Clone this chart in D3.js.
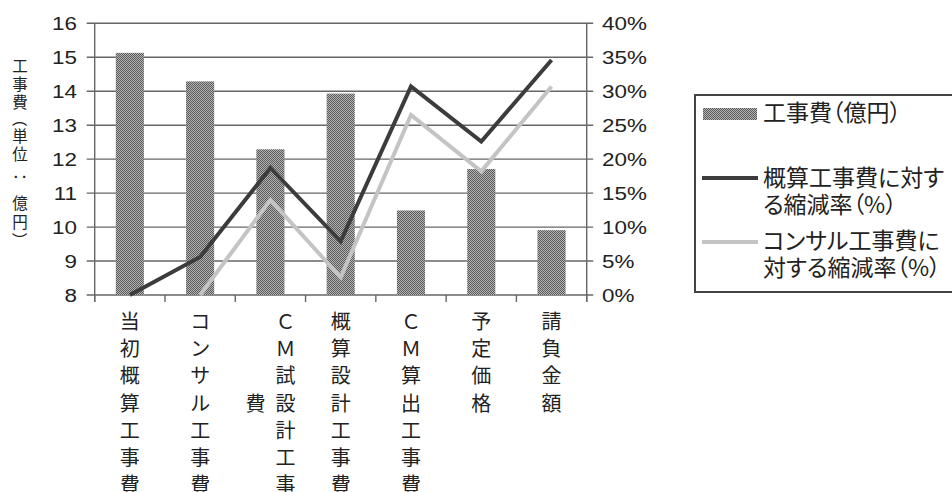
<!DOCTYPE html>
<html><head><meta charset="utf-8">
<script src="https://cdn.jsdelivr.net/npm/d3@7"></script>
<style>
html,body{margin:0;padding:0;background:#fff;}
svg{display:block;}
text{fill:#222;}
</style></head>
<body>
<svg id="chart" width="952" height="492"></svg>
<script>
// ---- data ----
const categories = ["当初概算工事費","コンサル工事費","ＣＭ試設計工事費","概算設計工事費","ＣＭ算出工事費","予定価格","請負金額"];
const costValues = [15.13, 14.29, 12.29, 13.93, 10.49, 11.71, 9.91];           // 工事費（億円）
const reductionVsEstimate = [0, 5.6, 18.7, 7.9, 30.7, 22.6, 34.6];              // 概算工事費に対する縮減率（%）
const reductionVsConsultant = [null, 0, 14.0, 2.6, 26.5, 18.2, 30.7];           // コンサル工事費に対する縮減率（%）
const leftTicks = [8, 9, 10, 11, 12, 13, 14, 15, 16];
const rightTicks = [0, 5, 10, 15, 20, 25, 30, 35, 40];
const yTitle = "工事費（単位：億円）";
const legendLabels = [["工事費（億円）"], ["概算工事費に対す", "る縮減率（%）"], ["コンサル工事費に", "対する縮減率（%）"]];

const svg = d3.select("#chart");
const L = 94.7, R = 586.7, T = 23.3, B = 295;
const CJK = "'Noto Sans CJK JP', sans-serif";
const LAT = "'Liberation Sans', Arial, sans-serif";

const defs = svg.append("defs");
const pat = defs.append("pattern").attr("id","dither").attr("width",2).attr("height",2).attr("patternUnits","userSpaceOnUse");
pat.append("rect").attr("width",2).attr("height",2).attr("fill","#b4b4b4");
pat.append("rect").attr("x",0).attr("y",0).attr("width",1).attr("height",1).attr("fill","#5a5a5a");
pat.append("rect").attr("x",1).attr("y",1).attr("width",1).attr("height",1).attr("fill","#5a5a5a");

const x = d3.scaleBand().domain(categories).range([L, R]).paddingInner(0.6).paddingOuter(0.3);
const step = x.step();
const yL = d3.scaleLinear().domain([8, 16]).range([B, T]);
const yR = d3.scaleLinear().domain([0, 40]).range([B, T]);

// gridlines (extend over both tick sides)
svg.append("g").selectAll("line").data(leftTicks).join("line")
  .attr("x1", L - 8).attr("x2", R + 6.5)
  .attr("y1", d => yL(d)).attr("y2", d => yL(d))
  .attr("stroke", "#666").attr("stroke-width", 1.4);

// vertical axes
[L, R].forEach(px => svg.append("line").attr("x1", px).attr("x2", px).attr("y1", T).attr("y2", B + 7)
  .attr("stroke", "#666").attr("stroke-width", 1.4));
// category boundary ticks
const bounds = d3.range(categories.length + 1).map(i => L + i * step);
svg.append("g").selectAll("line").data(bounds).join("line")
  .attr("x1", d => d).attr("x2", d => d).attr("y1", B).attr("y2", B + 7)
  .attr("stroke", "#666").attr("stroke-width", 1.4);

// left tick labels (slightly widened glyphs like the reference)
svg.append("g").selectAll("text").data(leftTicks).join("text")
  .attr("transform", d => `translate(77,${yL(d)}) scale(1.18,1)`).attr("dy", "0.36em")
  .attr("text-anchor", "end").attr("font-family", LAT).attr("font-size", 19)
  .text(d => d);
// right tick labels
svg.append("g").selectAll("text").data(rightTicks).join("text")
  .attr("transform", d => `translate(602,${yR(d)}) scale(1.18,1)`).attr("dy", "0.36em")
  .attr("text-anchor", "start").attr("font-family", LAT).attr("font-size", 19)
  .text(d => d + "%");

// bars
svg.append("g").selectAll("rect").data(categories).join("rect")
  .attr("x", d => x(d)).attr("width", x.bandwidth())
  .attr("y", (d, i) => yL(costValues[i])).attr("height", (d, i) => B - yL(costValues[i]))
  .attr("fill", "url(#dither)");

// lines
const cx = c => x(c) + x.bandwidth() / 2;
const mkLine = vals => d3.line().defined((d, i) => vals[i] !== null)
  .x(d => cx(d)).y((d, i) => yR(vals[i]))(categories);
svg.append("path").attr("d", mkLine(reductionVsConsultant)).attr("fill", "none")
  .attr("stroke", "#c4c4c4").attr("stroke-width", 4).attr("stroke-linejoin", "miter");
svg.append("path").attr("d", mkLine(reductionVsEstimate)).attr("fill", "none")
  .attr("stroke", "#3c3c3c").attr("stroke-width", 4).attr("stroke-linejoin", "miter");

// category labels: vertical stacked text, max 7 rows; extra columns to the left
const maxRows = 7, rowPitch = 27.1, colPitch = 30, topRow = 322;
const catG = svg.append("g").attr("font-family", CJK).attr("font-size", 20);
categories.forEach(c => {
  const chars = Array.from(c);
  const cols = [];
  for (let i = 0; i < chars.length; i += maxRows) cols.push(chars.slice(i, i + maxRows));
  const center = cx(c);
  cols.forEach((col, ci) => {
    const colX = center + ((cols.length - 1) / 2 - ci) * colPitch;
    const offset = ci === 0 ? 0 : Math.floor((maxRows - col.length) / 2);
    col.forEach((ch, ri) => {
      catG.append("text").attr("x", colX).attr("y", topRow + (ri + offset) * rowPitch)
        .attr("dy", "0.36em").attr("text-anchor", "middle").text(ch);
    });
  });
});

// y axis title (vertical)
const titleY = [66, 84, 102, 119, 136, 154, 177, 203, 222, 240];
const tG = svg.append("g").attr("font-family", CJK).attr("font-size", 15.5);
Array.from(yTitle).forEach((ch, i) => {
  const rot = "（）：".includes(ch);
  tG.append("text").attr("text-anchor", "middle").attr("dy", "0.36em")
    .attr("transform", `translate(20,${titleY[i]})` + (rot ? " rotate(90)" : ""))
    .text(ch);
});

// legend
const lg = svg.append("g");
lg.append("rect").attr("x", 695).attr("y", 95).attr("width", 270).attr("height", 197)
  .attr("fill", "#fff").attr("stroke", "#444").attr("stroke-width", 2);
lg.append("rect").attr("x", 703).attr("y", 108).attr("width", 54).attr("height", 12).attr("fill", "url(#dither)");
lg.append("line").attr("x1", 702).attr("x2", 758).attr("y1", 178).attr("y2", 178).attr("stroke", "#3c3c3c").attr("stroke-width", 4);
lg.append("line").attr("x1", 702).attr("x2", 758).attr("y1", 242).attr("y2", 242).attr("stroke", "#c4c4c4").attr("stroke-width", 4);
const legY = [[113], [178, 205], [241, 268]];
legendLabels.forEach((lines, i) => {
  lines.forEach((t, j) => {
    lg.append("text").attr("x", 763).attr("y", legY[i][j]).attr("dy", "0.36em")
      .attr("font-family", CJK).attr("font-size", 23)
      .style("font-feature-settings", "'palt'").text(t);
  });
});
</script>
</body></html>
